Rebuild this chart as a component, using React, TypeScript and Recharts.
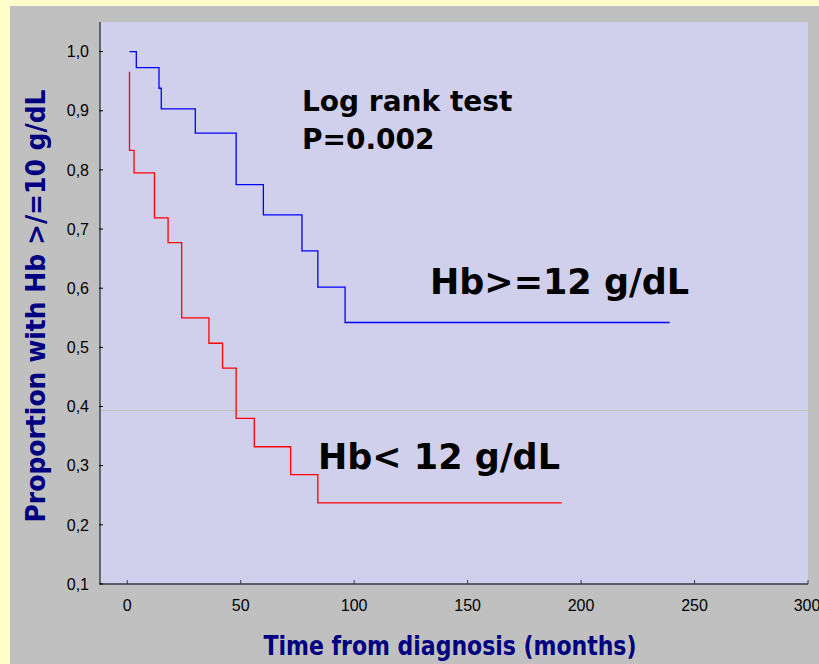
import { LineChart, Line, XAxis, YAxis, CartesianGrid, ReferenceLine } from 'recharts';

// Kaplan-Meier steps (months, proportion)
const highTimes = [1, 4, 14, 15, 30, 48, 60, 77, 84, 96, 239];
const highSurv = [1.0, 0.973, 0.938, 0.903, 0.862, 0.775, 0.724, 0.663, 0.602, 0.542, 0.542];
const lowTimes = [1, 1, 3, 12, 18, 24, 36, 42, 48, 56, 72, 84, 191.5];
const lowSurv = [0.966, 0.833, 0.795, 0.719, 0.677, 0.55, 0.507, 0.465, 0.38, 0.332, 0.285, 0.237, 0.237];

const xTicks = [0, 50, 100, 150, 200, 250, 300];
const yTicks = [0.1, 0.2, 0.3, 0.4, 0.5, 0.6, 0.7, 0.8, 0.9, 1.0];
const refLevel = 0.393;

const highData = highTimes.map((t, i) => ({ t, s: highSurv[i] }));
const lowData = lowTimes.map((t, i) => ({ t, s: lowSurv[i] }));

const W = 819;
const H = 664;
const navy = '#000080';
const annot = { fontFamily: 'DejaVu Sans, Verdana, sans-serif', fontWeight: 700, fill: '#000' };
const title = { fontFamily: 'DejaVu Sans, Tahoma, sans-serif', fontWeight: 700, fill: navy };
const tickStyle = { fontSize: 16, fill: '#000', fontFamily: 'Liberation Sans, Arial, sans-serif' };

export default function App() {
  return (
    <div style={{ position: 'absolute', left: 0, top: 0, width: W, height: H, background: '#ffffcc' }}>
      <div style={{ position: 'absolute', left: 10, top: 6, width: W - 10, height: H - 6, background: '#c0c0c0' }} />
      <div style={{ position: 'absolute', left: 0, top: 0 }}>
        <LineChart width={W} height={H} margin={{ top: 22, right: 11, left: 10, bottom: 0 }}>
          <CartesianGrid fill="#d0d0ec" stroke="none" horizontal={false} vertical={false} />
          <XAxis
            dataKey="t"
            type="number"
            domain={[-12, 300]}
            ticks={xTicks}
            height={80}
            tick={tickStyle}
            tickSize={-4}
            tickMargin={20}
            axisLine={{ stroke: '#3a3a48', strokeWidth: 1.5 }}
            tickLine={{ stroke: '#3a3a48' }}
          />
          <YAxis
            type="number"
            domain={[0.1, 1.05]}
            ticks={yTicks}
            width={90}
            allowDataOverflow
            tick={tickStyle}
            tickSize={4}
            tickMargin={7}
            axisLine={{ stroke: '#000' }}
            tickLine={{ stroke: '#000', transform: 'translate(3,0)' }}
            tickFormatter={(v) => v.toFixed(1).replace('.', ',')}
          />
          <ReferenceLine y={refLevel} stroke="#c4c0b2" strokeWidth={1} />
          <Line data={highData} dataKey="s" type="stepAfter" stroke="#0000ff" strokeWidth={1.3} dot={false} isAnimationActive={false} />
          <Line data={lowData} dataKey="s" type="stepAfter" stroke="#ff0000" strokeWidth={1.3} dot={false} isAnimationActive={false} />
        </LineChart>
      </div>
      <svg width={W} height={H} style={{ position: 'absolute', left: 0, top: 0, pointerEvents: 'none' }}>
        <text x={302} y={111} fontSize={28} {...annot}>Log rank test</text>
        <text x={302} y={149} fontSize={28} {...annot}>P=0.002</text>
        <text x={430} y={294} fontSize={35} {...annot}>Hb&gt;=12 g/dL</text>
        <text x={318} y={469} fontSize={35} {...annot}>Hb&lt; 12 g/dL</text>
        <text
          x={45}
          y={306}
          fontSize={26}
          textAnchor="middle"
          textLength={433}
          lengthAdjust="spacingAndGlyphs"
          transform="rotate(-90 45 306)"
          {...title}
        >
          Proportion with Hb &gt;/=10 g/dL
        </text>
        <text x={450} y={655} fontSize={26} textAnchor="middle" textLength={373} lengthAdjust="spacingAndGlyphs" {...title}>
          Time from diagnosis (months)
        </text>
      </svg>
    </div>
  );
}
